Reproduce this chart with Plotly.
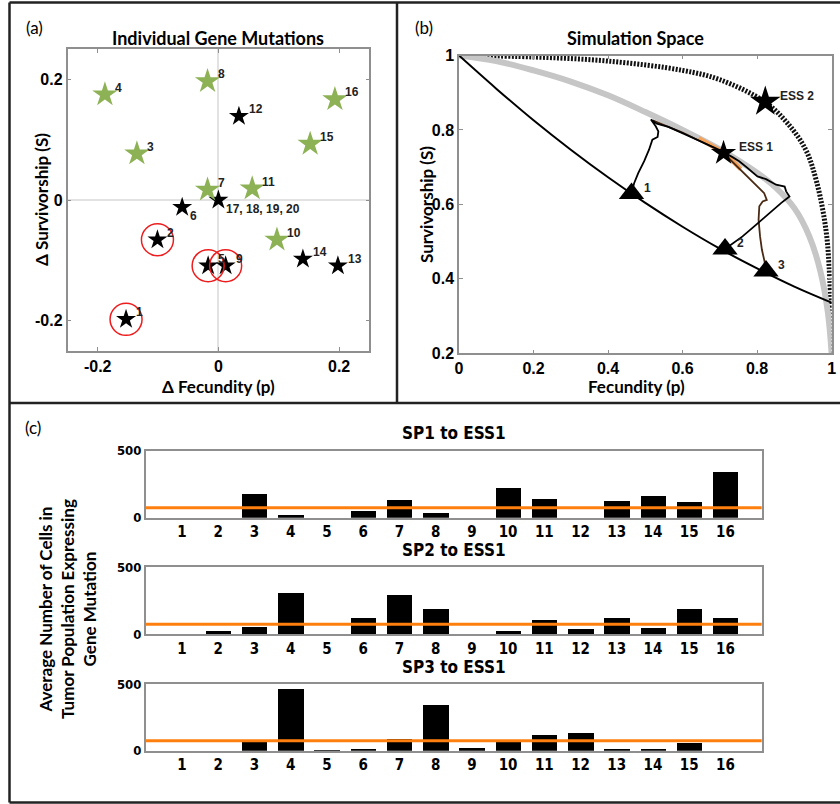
import plotly.graph_objects as go

# ---------------- data ----------------
# Panel (a): individual gene mutations
gene_labels = ["1", "2", "3", "4", "5", "6", "7", "8", "9", "10", "11", "12",
               "13", "14", "15", "16", "17, 18, 19, 20"]
delta_p = [-0.153, -0.101, -0.135, -0.188, -0.017, -0.060, -0.018, -0.018, 0.012,
           0.097, 0.056, 0.034, 0.198, 0.140, 0.152, 0.193, 0.0]
delta_s = [-0.198, -0.066, 0.077, 0.175, -0.109, -0.012, 0.017, 0.197, -0.109,
           -0.066, 0.019, 0.139, -0.109, -0.098, 0.093, 0.167, 0.0]
green_genes = ["3", "4", "7", "8", "10", "11", "15", "16"]
circled_genes = ["1", "2", "5", "9"]
labels_below = ["6", "17, 18, 19, 20"]

# Panel (b): simulation space
lower_p = [0.0, 0.1, 0.2, 0.3, 0.4, 0.5, 0.6, 0.7, 0.8, 0.9, 1.0]
lower_s = [1.0, 0.911, 0.826, 0.747, 0.673, 0.604, 0.540, 0.481, 0.428, 0.379, 0.336]
gray_p = [0.0, 0.1, 0.2, 0.3, 0.4, 0.5, 0.6, 0.7, 0.8, 0.85, 0.9, 0.94, 0.97, 0.99, 1.0]
gray_s = [1.0, 0.985, 0.96, 0.93, 0.893, 0.848, 0.80, 0.748, 0.685, 0.645, 0.59, 0.515, 0.42, 0.31, 0.2]
outer_p = [0.0, 0.2, 0.4, 0.6, 0.7, 0.82, 0.88, 0.93, 0.96, 0.985, 0.995, 1.0]
outer_s = [1.0, 0.996, 0.985, 0.96, 0.935, 0.876, 0.82, 0.748, 0.66, 0.53, 0.40, 0.2]

path1_p = [0.463, 0.470, 0.481, 0.497, 0.510, 0.519, 0.533, 0.535, 0.528, 0.515, 0.531,
           0.562, 0.598, 0.634, 0.671, 0.698, 0.714]
path1_s = [0.629, 0.657, 0.684, 0.716, 0.747, 0.774, 0.781, 0.796, 0.810, 0.828, 0.817,
           0.808, 0.792, 0.776, 0.760, 0.747, 0.738]
path2_p = [0.714, 0.734, 0.761, 0.797, 0.833, 0.865, 0.887, 0.878, 0.874, 0.851, 0.824,
           0.801, 0.774, 0.752, 0.734, 0.714]
path2_s = [0.480, 0.494, 0.514, 0.545, 0.577, 0.604, 0.621, 0.635, 0.648, 0.653, 0.668,
           0.675, 0.698, 0.716, 0.727, 0.738]
path3_p = [0.824, 0.820, 0.813, 0.808, 0.804, 0.806, 0.815, 0.826, 0.819, 0.801, 0.779,
           0.756, 0.734, 0.714, 0.690, 0.660, 0.630, 0.600, 0.560, 0.520]
path3_s = [0.421, 0.447, 0.478, 0.514, 0.559, 0.595, 0.608, 0.612, 0.630, 0.648, 0.671,
           0.693, 0.716, 0.734, 0.749, 0.764, 0.779, 0.793, 0.809, 0.826]
orange_p = [0.643, 0.680, 0.714, 0.756]
orange_s = [0.778, 0.757, 0.737, 0.695]

start_labels = ["1", "2", "3"]
start_p = [0.463, 0.714, 0.824]
start_s = [0.629, 0.480, 0.421]
ess_labels = ["ESS 1", "ESS 2"]
ess_p = [0.710, 0.822]
ess_s = [0.738, 0.876]

# Panel (c): bar charts
genes = list(range(1, 17))
sp1_to_ess1 = [0, 0, 181, 25, 0, 55, 137, 40, 0, 226, 142, 0, 127, 164, 122, 341]
sp2_to_ess1 = [0, 22, 55, 306, 0, 117, 291, 189, 0, 20, 102, 37, 122, 45, 184, 122]
sp3_to_ess1 = [0, 0, 70, 463, 3, 8, 87, 343, 22, 62, 119, 129, 10, 16, 58, 0]
bar_titles = ["SP1 to ESS1", "SP2 to ESS1", "SP3 to ESS1"]
threshold = 75

# ---------------- layout helpers ----------------
W, H = 840, 804


def px(x):
    return x / W


def py(y):
    return 1 - y / H


TITLE_FONT = "Lato, Open Sans, sans-serif"
TICK_FONT = "Liberation Sans, Arial, sans-serif"
NARROW = "Liberation Sans Narrow, Arial Narrow, DejaVu Sans Condensed, Liberation Sans, sans-serif"
GREEN = "#8db255"
FRAME = "#8f8f8f"

fig = go.Figure()

# ---------------- panel (a) ----------------
for is_green in (False, True):
    xs = [x for x, l in zip(delta_p, gene_labels) if (l in green_genes) == is_green]
    ys = [y for y, l in zip(delta_s, gene_labels) if (l in green_genes) == is_green]
    fig.add_trace(go.Scatter(
        x=xs, y=ys, mode="markers", xaxis="x", yaxis="y",
        marker=dict(symbol="star", size=19 if is_green else 15,
                    color=GREEN if is_green else "black", line=dict(width=0)),
        showlegend=False, hoverinfo="skip"))

cx = [x for x, l in zip(delta_p, gene_labels) if l in circled_genes]
cy = [y for y, l in zip(delta_s, gene_labels) if l in circled_genes]
fig.add_trace(go.Scatter(
    x=cx, y=cy, mode="markers", xaxis="x", yaxis="y",
    marker=dict(symbol="circle-open", size=32, color="#ee1c1c",
                line=dict(width=1.5, color="#ee1c1c")),
    showlegend=False, hoverinfo="skip"))

annotations = []
for x, y, l in zip(delta_p, delta_s, gene_labels):
    below = l in labels_below
    annotations.append(dict(
        x=x, y=y, xref="x", yref="y", text=l, showarrow=False,
        xanchor="left", yanchor="middle",
        xshift=6 if below else 8, yshift=-9 if below else 7,
        font=dict(family=TICK_FONT, size=12, color="#222", weight="bold")))

axis_common = dict(showgrid=False, showline=True, mirror="ticks", linecolor=FRAME,
                   linewidth=1.5, ticks="inside", ticklen=4, tickcolor=FRAME,
                   automargin=False,
                   tickfont=dict(family=TICK_FONT, size=16, color="black", weight="bold"))

# ---------------- panel (b) ----------------
fig.add_trace(go.Scatter(x=outer_p, y=outer_s, mode="lines", xaxis="x2", yaxis="y2",
                         line=dict(color="#111", width=5, dash="2px,1.5px", shape="spline"),
                         showlegend=False, hoverinfo="skip"))
fig.add_trace(go.Scatter(x=gray_p, y=gray_s, mode="lines", xaxis="x2", yaxis="y2",
                         line=dict(color="#c6c6c6", width=6, shape="spline"),
                         showlegend=False, hoverinfo="skip"))
fig.add_trace(go.Scatter(x=lower_p, y=lower_s, mode="lines", xaxis="x2", yaxis="y2",
                         line=dict(color="black", width=2, shape="spline"),
                         showlegend=False, hoverinfo="skip"))
fig.add_trace(go.Scatter(x=orange_p, y=orange_s, mode="lines", xaxis="x2", yaxis="y2",
                         line=dict(color="#f5a25a", width=4.5),
                         showlegend=False, hoverinfo="skip"))
fig.add_trace(go.Scatter(x=path3_p, y=path3_s, mode="lines", xaxis="x2", yaxis="y2",
                         line=dict(color="#4a2a14", width=1.8),
                         showlegend=False, hoverinfo="skip"))
for pp, ss in ((path1_p, path1_s), (path2_p, path2_s)):
    fig.add_trace(go.Scatter(x=pp, y=ss, mode="lines", xaxis="x2", yaxis="y2",
                             line=dict(color="black", width=1.8),
                             showlegend=False, hoverinfo="skip"))
fig.add_trace(go.Scatter(x=start_p, y=start_s, mode="markers", xaxis="x2", yaxis="y2",
                         marker=dict(symbol="triangle-up", size=22, color="black"),
                         showlegend=False, hoverinfo="skip"))
for i, star_size in enumerate((19, 23)):
    fig.add_trace(go.Scatter(x=[ess_p[i]], y=[ess_s[i]], mode="markers", xaxis="x2", yaxis="y2",
                             marker=dict(symbol="star", size=star_size, color="#000000",
                                         opacity=1, line=dict(width=0)),
                             showlegend=False, hoverinfo="skip"))
for x, y, l in zip(start_p, start_s, start_labels):
    annotations.append(dict(x=x, y=y, xref="x2", yref="y2", text=l, showarrow=False,
                            xanchor="left", yanchor="middle", xshift=10, yshift=6,
                            font=dict(family=TICK_FONT, size=12, color="#222", weight="bold")))
for x, y, l in zip(ess_p, ess_s, ess_labels):
    annotations.append(dict(x=x, y=y, xref="x2", yref="y2", text=l, showarrow=False,
                            xanchor="left", yanchor="middle", xshift=13, yshift=6,
                            font=dict(family=TICK_FONT, size=12, color="#222", weight="bold")))

# ---------------- panel (c) ----------------
bar_sets = [sp1_to_ess1, sp2_to_ess1, sp3_to_ess1]
bar_rows = [(450.7, 517.7), (567.3, 634.3), (684.0, 750.7)]
title_y = [433, 550, 667]
shapes = []
for k, vals in enumerate(bar_sets):
    xa = "x%d" % (k + 3)
    ya = "y%d" % (k + 3)
    fig.add_trace(go.Bar(x=genes, y=vals, xaxis=xa, yaxis=ya, width=0.7,
                         marker=dict(color="black", line=dict(width=0)),
                         showlegend=False, hoverinfo="skip"))
    shapes.append(dict(type="line", xref="%s domain" % xa, yref=ya, x0=0, x1=1,
                       y0=threshold, y1=threshold, line=dict(color="#ff7f0e", width=3)))
    annotations.append(dict(x=px(453.7), y=py(title_y[k]), xref="paper", yref="paper",
                            xanchor="center", yanchor="middle",
                            text=bar_titles[k], showarrow=False,
                            font=dict(family=NARROW, size=17, color="black", weight="bold")))


# ---------------- titles and labels ----------------
def label(x, y, text, size, weight="bold", family=TITLE_FONT, angle=0):
    annotations.append(dict(x=px(x), y=py(y), xref="paper", yref="paper", text=text,
                            xanchor="center", yanchor="middle",
                            showarrow=False, textangle=angle,
                            font=dict(family=family, size=size, color="black", weight=weight)))


label(218, 38, "Individual Gene Mutations", 18)
label(635, 38, "Simulation Space", 18)
label(218, 386, "Δ Fecundity (p)", 17)
label(42, 200, "Δ Survivorship (S)", 17, angle=-90)
label(636, 386, "Fecundity (p)", 17)
label(427, 205, "Survivorship (S)", 17, angle=-90)
label(34, 27, "(a)", 17, weight="normal")
label(424, 27, "(b)", 17, weight="normal")
label(33, 427, "(c)", 17, weight="normal")
label(67, 609, "Average Number of Cells in<br>Tumor Population Expressing<br>Gene Mutation",
      17, angle=-90)

# panel frames
frame_line = dict(color="#222", width=2.5)
shapes += [
    dict(type="line", xref="paper", yref="paper", x0=px(9.5), x1=px(9.5), y0=py(2.5), y1=py(802.5), line=frame_line),
    dict(type="line", xref="paper", yref="paper", x0=px(9.5), x1=1.01, y0=py(2.5), y1=py(2.5), line=frame_line),
    dict(type="line", xref="paper", yref="paper", x0=px(9.5), x1=1.01, y0=py(802.5), y1=py(802.5), line=frame_line),
    dict(type="line", xref="paper", yref="paper", x0=px(397), x1=px(397), y0=py(2.5), y1=py(403), line=frame_line),
    dict(type="line", xref="paper", yref="paper", x0=px(9.5), x1=1.01, y0=py(403), y1=py(403), line=frame_line),
]

layout = dict(
    width=W, height=H, margin=dict(l=0, r=0, t=0, b=0, autoexpand=False),
    paper_bgcolor="white", plot_bgcolor="white", showlegend=False,
    annotations=annotations, shapes=shapes, bargap=0,
    xaxis=dict(domain=[px(67.5), px(369.3)], range=[-0.25, 0.25], anchor="y",
               tickvals=[-0.2, 0, 0.2], ticktext=["-0.2", "0", "0.2"],
               zeroline=True, zerolinecolor="#e2e2e2", zerolinewidth=1.5, **axis_common),
    yaxis=dict(domain=[py(350.7), py(49.3)], range=[-0.25, 0.25], anchor="x",
               tickvals=[-0.2, 0, 0.2], ticktext=["-0.2", "0", "0.2"],
               zeroline=True, zerolinecolor="#e2e2e2", zerolinewidth=1.5, **axis_common),
    xaxis2=dict(domain=[px(459), px(831.6)], range=[0, 1], anchor="y2",
                tickvals=[0, 0.2, 0.4, 0.6, 0.8, 1], ticktext=["0", "0.2", "0.4", "0.6", "0.8", "1"],
                zeroline=False, **axis_common),
    yaxis2=dict(domain=[py(353.3), py(55.5)], range=[0.2, 1], anchor="x2",
                tickvals=[0.2, 0.4, 0.6, 0.8, 1], ticktext=["0.2", "0.4", "0.6", "0.8", "1"],
                zeroline=False, **axis_common),
)
for k, (top, bottom) in enumerate(bar_rows):
    n = k + 3
    layout["xaxis%d" % n] = dict(
        domain=[px(145.7), px(761.7)], range=[0, 17], anchor="y%d" % n,
        tickvals=genes, ticktext=[str(g) for g in genes], showgrid=False, zeroline=False,
        showline=True, mirror=True, linecolor=FRAME, linewidth=1.5, ticks="",
        automargin=False,
        tickfont=dict(family=NARROW, size=15, color="black", weight="bold"))
    layout["yaxis%d" % n] = dict(
        domain=[py(bottom), py(top)], range=[0, 500], anchor="x%d" % n,
        tickvals=[0, 500], ticktext=["0", "500"], showgrid=False, zeroline=False,
        showline=True, mirror=True, linecolor=FRAME, linewidth=1.5, ticks="",
        automargin=False,
        tickfont=dict(family=NARROW, size=13, color="black", weight="bold"))

fig.update_layout(**layout)
# remove the default 8px page margin so the figure fills the window exactly
fig.write_html("out.html", config={"displayModeBar": False},
               post_script="document.body.style.margin='0px';")
